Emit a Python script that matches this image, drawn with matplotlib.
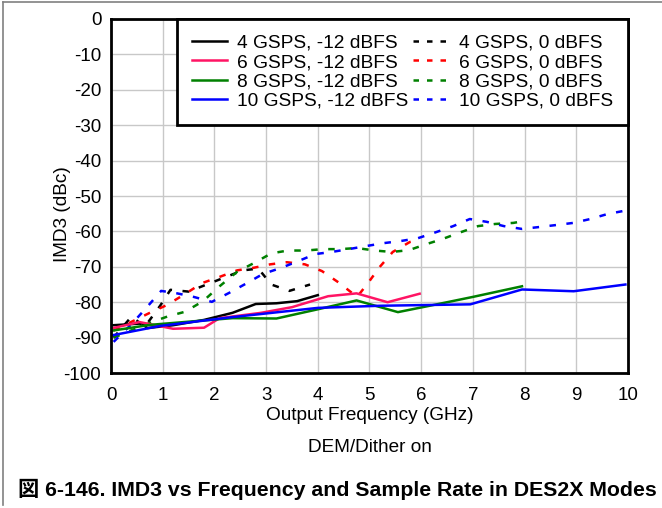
import matplotlib.pyplot as plt
from matplotlib.lines import Line2D

plt.rcParams['font.family'] = ['Liberation Sans', 'Noto Sans CJK JP', 'DejaVu Sans']
plt.rcParams['axes.unicode_minus'] = False

# IMD3 (dBc), per sample rate and level
f_4g_m12 = [0.04, 0.6, 0.7, 1.2, 1.8, 2.35, 2.8, 3.2, 3.6, 4.0]
v_4g_m12 = [-86.5, -86.0, -87.3, -86.5, -85.0, -83.0, -80.5, -80.3, -79.7, -78.0]
f_6g_m12 = [0.04, 0.55, 1.2, 1.8, 2.1, 2.9, 3.5, 4.2, 4.75, 5.35, 5.97]
v_6g_m12 = [-87.3, -85.6, -87.5, -87.2, -84.5, -83.0, -81.4, -78.3, -77.5, -80.0, -77.6]
f_8g_m12 = [0.04, 0.75, 1.5, 2.35, 3.2, 4.0, 4.75, 5.55, 6.3, 7.0, 7.95]
v_8g_m12 = [-88.0, -86.4, -85.5, -84.5, -84.6, -82.0, -79.5, -82.8, -80.6, -78.5, -75.5]
f_10g_m12 = [0.04, 0.95, 2.35, 4.0, 5.2, 6.95, 7.95, 8.95, 9.95]
v_10g_m12 = [-89.3, -86.7, -84.2, -81.6, -81.0, -80.6, -76.4, -76.9, -75.0]

f_4g_0 = [0.05, 0.4, 0.65, 0.95, 1.15, 1.5, 1.85, 2.2, 2.55, 2.85, 3.1, 3.45, 3.85]
v_4g_0 = [-90.0, -84.0, -87.0, -81.0, -76.5, -77.0, -75.0, -73.0, -71.0, -70.5, -75.0, -76.8, -75.0]
f_6g_0 = [0.05, 0.75, 1.08, 1.43, 1.76, 2.09, 2.44, 2.75, 3.08, 3.4, 3.75, 4.08, 4.41,
          4.76, 4.97, 5.2, 5.45, 5.78, 5.98]
v_6g_0 = [-88.0, -83.0, -80.8, -77.7, -74.6, -72.9, -71.0, -70.3, -69.3, -68.7, -69.3, -71.2, -74.5,
          -78.5, -74.6, -70.0, -65.8, -63.0, -62.4]
f_8g_0 = [0.05, 0.79, 1.1, 1.43, 1.78, 2.1, 2.44, 2.77, 3.1, 3.42, 3.77, 4.1, 4.43, 4.76,
          5.1, 5.43, 5.76, 6.1, 6.42, 6.77, 7.1, 7.43, 7.78, 7.9]
v_8g_0 = [-90.0, -85.6, -84.0, -82.7, -79.7, -75.5, -71.4, -68.9, -66.2, -65.4, -65.4, -65.0, -65.0, -64.7,
          -65.4, -65.8, -65.3, -63.6, -62.1, -60.2, -58.5, -57.9, -57.6, -57.3]
f_10g_0 = [0.05, 0.41, 0.7, 0.97, 1.28, 1.6, 1.95, 2.28, 2.63, 2.94, 3.29, 3.62, 3.95, 4.27,
           4.6, 4.95, 5.28, 5.61, 5.94, 6.29, 6.62, 6.94, 7.27, 7.6, 7.95, 8.26, 8.61, 8.94,
           9.27, 9.6, 9.92]
v_10g_0 = [-91.2, -86.0, -81.3, -76.8, -77.5, -78.5, -79.9, -77.4, -74.6, -72.0, -70.3, -68.4, -66.4, -65.8,
           -65.0, -64.1, -63.3, -62.7, -61.9, -60.2, -58.5, -56.5, -57.3, -58.5, -59.3, -58.8, -58.2, -57.6,
           -56.5, -55.1, -54.2]

x_ticks = list(range(0, 11))
y_ticks = list(range(-100, 1, 10))

fig = plt.figure(figsize=(6.62, 5.08), dpi=100)
ax = fig.add_axes([0.1677, 0.2657, 0.7809, 0.6969])

lw = 1.8
dash = (0, (2.6, 4.2))
solid = [
    (f_4g_m12, v_4g_m12, 'black', '4 GSPS, -12 dBFS'),
    (f_6g_m12, v_6g_m12, '#ff1464', '6 GSPS, -12 dBFS'),
    (f_8g_m12, v_8g_m12, '#008000', '8 GSPS, -12 dBFS'),
    (f_10g_m12, v_10g_m12, '#0000ff', '10 GSPS, -12 dBFS'),
]
dashed = [
    (f_4g_0, v_4g_0, 'black', '4 GSPS, 0 dBFS'),
    (f_6g_0, v_6g_0, '#ff0000', '6 GSPS, 0 dBFS'),
    (f_8g_0, v_8g_0, '#008000', '8 GSPS, 0 dBFS'),
    (f_10g_0, v_10g_0, '#0000ff', '10 GSPS, 0 dBFS'),
]
for x, y, c, lab in dashed:
    ax.plot(x, y, color=c, lw=lw, linestyle=dash)
for x, y, c, lab in solid:
    ax.plot(x, y, color=c, lw=lw)

ax.set_xlim(0, 10)
ax.set_ylim(-100, 0)
ax.set_xticks(x_ticks)
ax.set_yticks(y_ticks)
ax.tick_params(length=0, labelsize=13.5)
ax.tick_params(axis='x', pad=10)
ax.tick_params(axis='y', pad=7)
ax.grid(True, color='#c8c8c8', lw=1.0)
for s in ax.spines.values():
    s.set_linewidth(2.0)
ax.set_xlabel('Output Frequency (GHz)', fontsize=13.7, labelpad=2)
ax.set_ylabel('IMD3 (dBc)', fontsize=13.7)
ax.yaxis.set_label_coords(-0.078, 0.45)

handles = [Line2D([], [], color=c, lw=lw) for _, _, c, _ in solid] + \
          [Line2D([], [], color=c, lw=lw, linestyle=(0, (2.2, 3.2))) for _, _, c, _ in dashed]
labels = [s[3] for s in solid] + [d[3] for d in dashed]
leg = ax.legend(handles, labels, ncol=2, loc='upper right', fontsize=13.8, frameon=True,
                fancybox=False, edgecolor='black', framealpha=1, borderaxespad=0,
                handlelength=1.83, handletextpad=0.52, columnspacing=0.25, labelspacing=0.1,
                borderpad=0.8)
leg.get_frame().set_linewidth(2.0)

fig.text(0.559, 0.12, 'DEM/Dither on', ha='center', va='center', fontsize=13.7)
fig.text(0.027, 0.037, '図 6-146. IMD3 vs Frequency and Sample Rate in DES2X Modes',
         ha='left', va='center', fontsize=15.3, fontweight='bold')

# outer frame of the figure (left and top edges)
fig.add_artist(Line2D([0.005, 0.005], [0.005, 0.997], color='#808080', lw=1.2))
fig.add_artist(Line2D([0.005, 1.0], [0.997, 0.997], color='#808080', lw=1.2))

fig.savefig('out.png', dpi=100)
